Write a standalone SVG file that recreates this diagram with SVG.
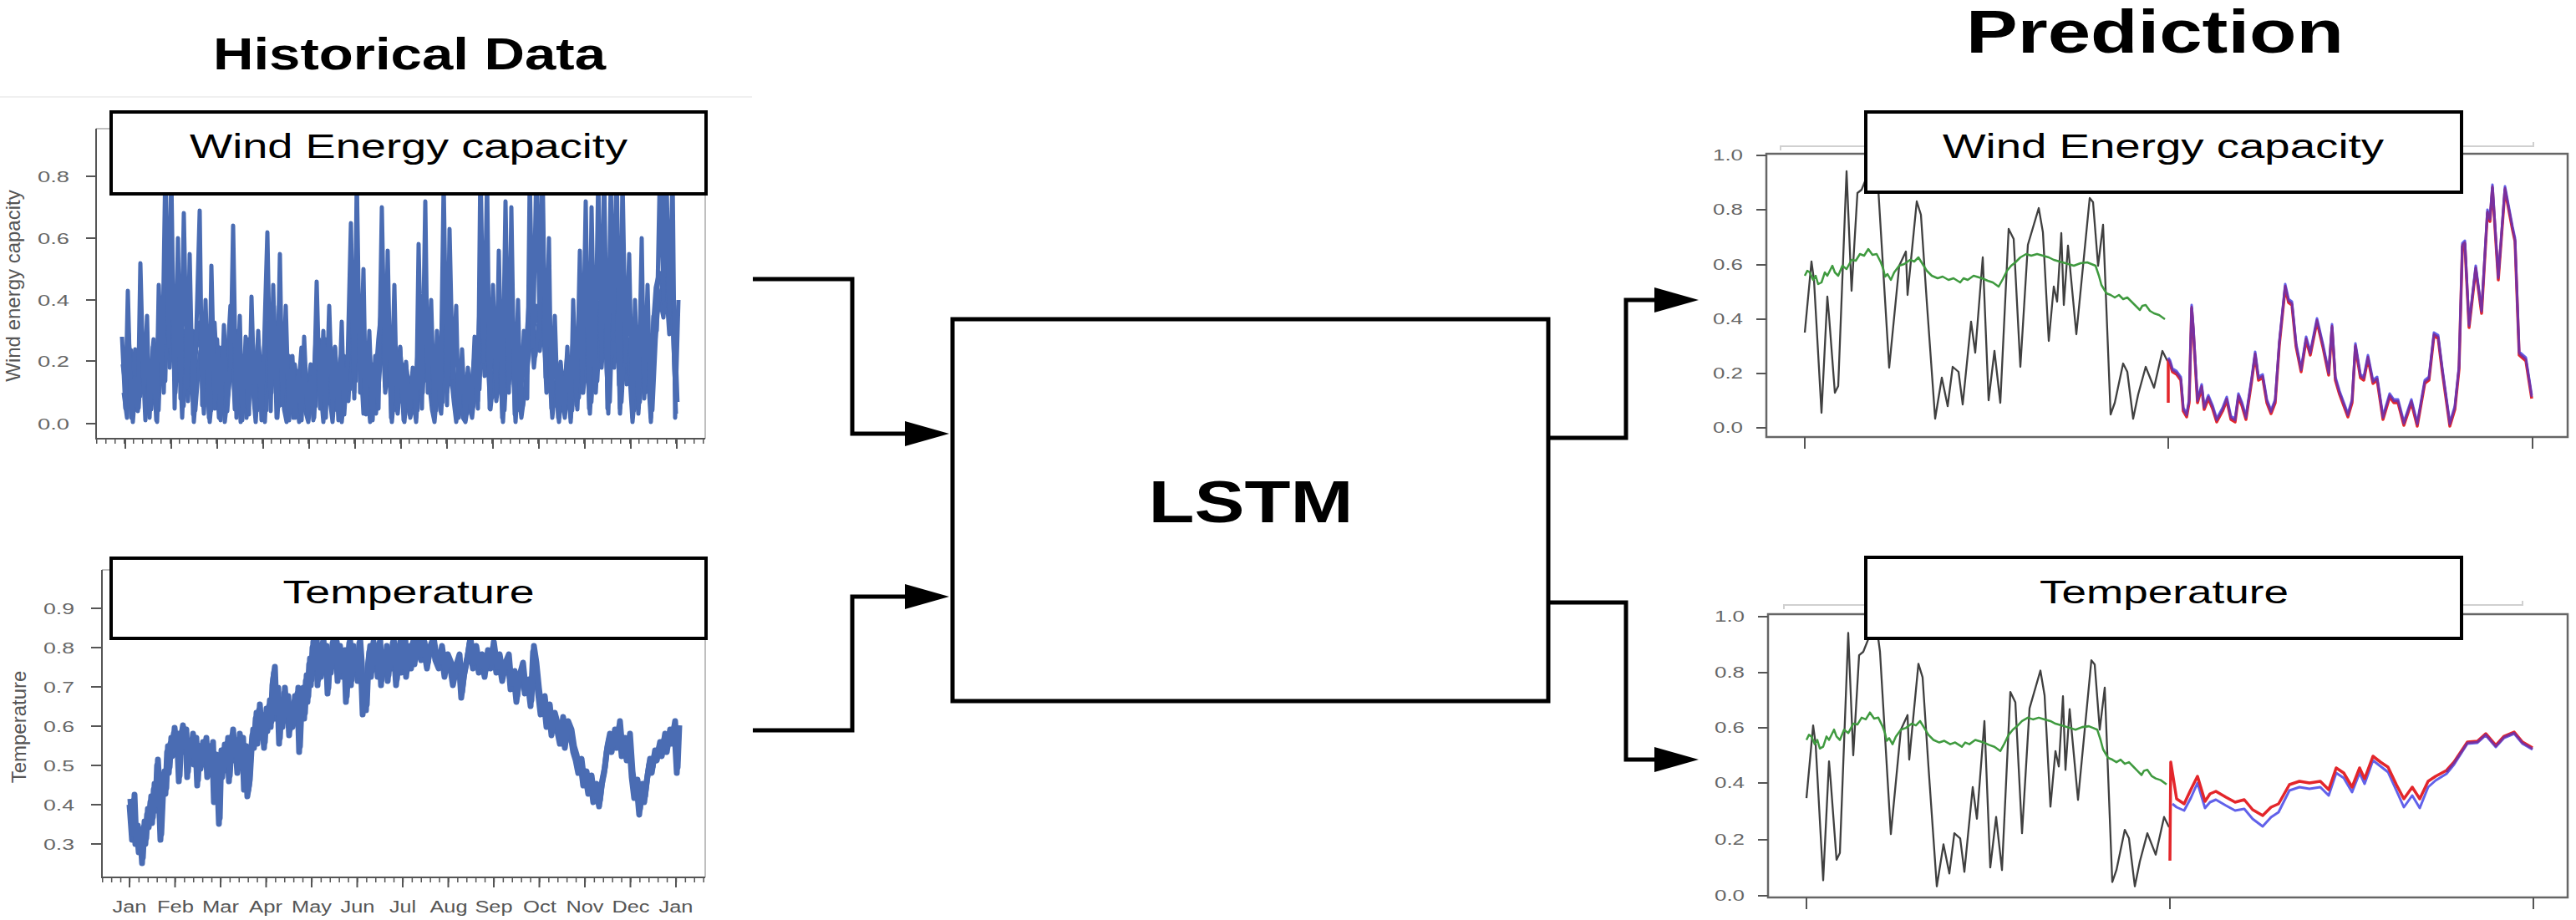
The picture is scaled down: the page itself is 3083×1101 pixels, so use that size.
<svg xmlns="http://www.w3.org/2000/svg" xmlns:xlink="http://www.w3.org/1999/xlink" width="3083" height="1101" viewBox="0 0 3083 1101">
<style>
text{font-family:"Liberation Sans",Arial,Helvetica,sans-serif}
.title{font-weight:bold;font-size:53px;fill:#000;text-anchor:middle}
.spine{stroke:#555;stroke-width:2;fill:none}
.spine2{stroke:#aaa;stroke-width:1.5;fill:none}
.frame{stroke:#666;stroke-width:2.5;fill:none}
.tick{stroke:#555;stroke-width:2;fill:none}
.lbl{font-size:19px;fill:#666;text-anchor:end}
.mon{font-size:20px;fill:#555;text-anchor:middle}
.ylab{font-size:24px;fill:#555;text-anchor:middle}
.legbox{fill:#fff;stroke:#000;stroke-width:4}
.legtxt{font-size:40px;fill:#000;text-anchor:middle}
.conn{stroke:#000;stroke-width:5;fill:none;stroke-linejoin:miter}
.hist{stroke:#4a6cb3;fill:none;stroke-width:5;stroke-linejoin:round}
.blk{stroke:#404040;stroke-width:2.3;fill:none;stroke-linejoin:round}
.grn{stroke:#3f9a3f;stroke-width:2.5;fill:none;stroke-linejoin:round}
.red{stroke:#e3262b;stroke-width:3.5;fill:none;stroke-linejoin:round}
.blu{stroke:#4545e6;stroke-width:3;fill:none;opacity:.85;stroke-linejoin:round}
.pur{stroke:#7b2f9b;stroke-width:2.5;fill:none;stroke-linejoin:round}
.faint{stroke:#d0d0d0;stroke-width:2;fill:none}
</style>
<defs>
<marker id="arrow" markerUnits="userSpaceOnUse" markerWidth="53" markerHeight="30" viewBox="0 0 53 30" refX="0" refY="15" orient="auto">
<path d="M0,0 L53,15 L0,30 Z" fill="#000"/>
</marker>
<polyline id="obsBlack" class="blk" points="2160,398 2168,313 2171,335 2180,494 2187,355 2189,378 2196,470 2200,462 2210,205 2216,348 2223,231 2228,227 2243,190 2248,227 2261,440 2273,318 2281,301 2283,353 2294,241 2299,257 2306,361 2316,501 2324,452 2331,486 2337,439 2344,445 2349,484 2359,385 2364,422 2373,308 2380,479 2387,420 2394,482 2404,274 2410,286 2418,439 2427,293 2440,249 2445,278 2452,408 2458,343 2462,361 2467,279 2470,365 2475,294 2485,400 2501,237 2505,242 2511,318 2517,269 2526,496 2531,482 2541,435 2546,445 2553,501 2559,472 2568,439 2578,464 2588,420 2594,432"/>
<polyline id="obsGreen" class="grn" points="2160,330 2163,324 2166,326 2170,335 2173,330 2176,340 2180,338 2184,326 2187,330 2193,318 2196,326 2200,330 2205,318 2210,322 2216,311 2221,312 2226,304 2231,306 2236,298 2241,305 2246,304 2251,314 2254,322 2256,331 2259,328 2263,335 2267,326 2273,318 2279,316 2286,311 2291,313 2296,308 2301,316 2306,324 2312,330 2319,333 2325,331 2332,335 2338,333 2346,338 2350,333 2355,335 2362,330 2372,333 2379,336 2385,338 2392,343 2397,334 2402,324 2407,318 2412,314 2418,308 2425,304 2431,306 2438,304 2445,306 2452,308 2458,311 2465,313 2472,315 2482,318 2490,315 2498,314 2503,316 2508,318 2512,330 2515,341 2521,351 2526,353 2531,356 2536,353 2541,358 2546,356 2551,361 2556,366 2561,371 2564,366 2568,365 2573,372 2578,375 2584,377 2591,382"/>
<polyline id="predW" fill="none" points="2595,430 2597,433 2600,443 2605,446 2610,453 2613,490 2617,497 2620,480 2623,367 2625,393 2630,480 2635,462 2638,488 2643,475 2648,487 2653,503 2660,490 2665,477 2670,500 2675,503 2679,473 2683,483 2688,500 2695,453 2699,423 2703,453 2708,450 2713,480 2718,493 2723,480 2728,410 2735,342 2739,360 2743,363 2748,413 2754,443 2760,405 2765,423 2773,383 2780,413 2787,447 2791,390 2795,453 2800,470 2810,497 2815,480 2819,413 2825,450 2829,453 2834,427 2840,457 2845,453 2852,500 2860,473 2865,480 2870,480 2877,507 2886,480 2893,508 2902,457 2907,453 2913,400 2918,403 2923,443 2932,508 2938,488 2943,440 2947,293 2950,290 2955,390 2963,320 2970,373 2977,253 2980,263 2983,223 2990,333 2998,225 3007,273 3010,287 3015,423 3023,430 3030,475"/>
</defs>

<rect x="0" y="0" width="3083" height="1101" fill="#fff"/>

<g id="title-historical">
<text class="title" x="490" y="83" textLength="470" lengthAdjust="spacingAndGlyphs">Historical Data</text>
</g>
<g id="title-prediction">
<text class="title" x="2579" y="63" style="font-size:73px" textLength="452" lengthAdjust="spacingAndGlyphs">Prediction</text>
</g>

<line x1="0" y1="116" x2="900" y2="116" stroke="#f0f0f0" stroke-width="2"/>

<!-- Historical wind energy chart -->
<g id="hist-wind">
<path class="spine2" d="M115,154 H844 V525"/>
<path class="spine" d="M115,154 V525 H844"/>
<path class="tick" d="M103,211 H115 M103,285 H115 M103,359 H115 M103,432 H115 M103,507 H115"/>
<line x1="115" y1="528" x2="844" y2="528" stroke="#555" stroke-width="6" stroke-dasharray="1.5 9.5"/>
<line x1="149" y1="531" x2="812" y2="531" stroke="#555" stroke-width="12" stroke-dasharray="2 53"/>
<text class="lbl" x="83" y="218" textLength="38" lengthAdjust="spacingAndGlyphs">0.8</text>
<text class="lbl" x="83" y="292" textLength="38" lengthAdjust="spacingAndGlyphs">0.6</text>
<text class="lbl" x="83" y="366" textLength="38" lengthAdjust="spacingAndGlyphs">0.4</text>
<text class="lbl" x="83" y="439" textLength="38" lengthAdjust="spacingAndGlyphs">0.2</text>
<text class="lbl" x="83" y="514" textLength="38" lengthAdjust="spacingAndGlyphs">0.0</text>
<text class="ylab" transform="translate(24,342) rotate(-90)">Wind energy capacity</text>
<polyline id="windLow" class="hist" points="148,470 152,500 155,433 159,505 163,452 166,488 170,415 174,503 177,460 181,490 185,440 188,505 192,396 196,470 199,350 203,440 207,380 210,470 214,400 218,500 221,430 225,480 229,410 232,505 236,452 240,420 244,495 247,440 251,505 255,460 258,420 262,500 266,450 269,505 273,470 277,400 281,490 284,430 288,505 292,460 295,500 299,440 303,470 306,505 310,440 314,480 317,505 321,420 325,470 329,400 332,500 336,430 340,490 343,505 347,460 351,500 354,470 358,505 362,450 365,490 369,505 373,470 376,500 380,420 384,470 387,505 391,440 395,480 398,505 402,450 406,495 409,505 413,460 417,480 421,400 424,470 428,380 432,440 435,495 439,460 443,505 447,470 450,495 454,440 458,400 461,470 465,430 469,505 472,470 476,495 480,450 484,505 487,470 491,500 495,480 498,505 502,440 506,470 509,400 513,450 517,490 520,505 524,460 528,495 532,420 535,470 539,440 543,480 546,505 550,470 554,500 557,505 561,480 565,500 569,460 572,480 576,380 580,450 583,420 587,490 591,450 594,480 598,440 602,505 606,420 609,460 613,420 617,505 620,460 624,500 628,470 632,430 635,380 639,440 643,400 646,420 650,378 654,470 657,440 661,500 665,460 669,505 672,470 676,500 680,460 683,505 687,440 691,490 694,420 698,470 702,420 706,495 709,440 713,470 717,396 720,440 724,380 728,495 731,400 735,440 739,378 742,495 746,420 750,460 753,440 757,505 761,460 764,495 768,430 772,470 775,440 779,505 783,420 786,378 790,360 794,380 797,340 801,400 805,380 809,495"/>
<use xlink:href="#windLow" href="#windLow" transform="translate(1.8,-14)"/>
<use xlink:href="#windLow" href="#windLow" transform="translate(-1.2,-34)"/>
<polyline class="hist" points="146,403 150,489 153,348 157,500 161,452 165,492 168,315 172,470 176,378 179,500 183,415 187,503 190,341 194,452 198,193 202,415 205,204 209,489 213,285 216,477 220,255 224,463 227,304 231,496 235,396 239,252 242,485 246,359 250,500 253,318 257,489 261,415 264,503 268,389 272,492 276,433 279,270 283,500 287,378 290,503 294,403 298,496 301,355 305,489 309,396 313,503 316,415 320,278 324,492 327,341 331,500 335,304 338,485 342,366 346,503 350,426 353,500 357,444 361,503 364,403 368,496 372,452 375,503 379,337 383,489 387,396 390,500 394,366 398,492 401,415 405,503 409,385 412,496 416,433 420,267 424,477 427,211 431,470 435,322 438,496 442,396 446,503 449,426 453,489 457,248 461,463 464,300 468,500 472,341 475,485 479,415 483,503 486,433 490,496 494,440 498,500 501,292 505,489 509,241 512,470 516,359 520,500 523,396 527,492 531,218 535,485 538,274 542,452 546,366 549,500 553,418 557,503 560,440 564,496 568,403 572,489 575,193 579,433 583,211 586,489 590,341 594,470 597,300 601,500 605,241 609,470 612,248 616,496 620,359 623,492 627,396 631,477 634,211 638,415 642,193 646,396 649,174 653,452 657,285 660,489 664,378 668,500 671,433 675,492 679,415 683,500 686,359 690,485 694,300 697,470 701,241 705,489 708,248 712,463 716,211 720,433 723,193 727,489 731,211 734,396 738,193 742,489 745,211 749,433 753,304 757,500 760,359 764,489 768,285 771,477 775,341 779,500 782,378 786,396 790,193 794,359 797,174 801,378 805,211 808,500 812,359"/>
<rect class="legbox" x="133" y="134" width="712" height="98"/>
<text class="legtxt" x="489" y="189" textLength="524" lengthAdjust="spacingAndGlyphs">Wind Energy capacity</text>
</g>

<!-- Historical temperature chart -->
<g id="hist-temp">
<path class="spine2" d="M122,682 H844 V1050"/>
<path class="spine" d="M122,682 V1050 H844"/>
<path class="tick" d="M109,728 H122 M109,775 H122 M109,822 H122 M109,869 H122 M109,916 H122 M109,963 H122 M109,1010 H122"/>
<line x1="122" y1="1053" x2="844" y2="1053" stroke="#555" stroke-width="6" stroke-dasharray="1.5 9.4"/>
<line x1="154" y1="1056" x2="811" y2="1056" stroke="#555" stroke-width="12" stroke-dasharray="2 52.5"/>
<text class="lbl" x="89" y="735" textLength="37" lengthAdjust="spacingAndGlyphs">0.9</text>
<text class="lbl" x="89" y="782" textLength="37" lengthAdjust="spacingAndGlyphs">0.8</text>
<text class="lbl" x="89" y="829" textLength="37" lengthAdjust="spacingAndGlyphs">0.7</text>
<text class="lbl" x="89" y="876" textLength="37" lengthAdjust="spacingAndGlyphs">0.6</text>
<text class="lbl" x="89" y="923" textLength="37" lengthAdjust="spacingAndGlyphs">0.5</text>
<text class="lbl" x="89" y="970" textLength="37" lengthAdjust="spacingAndGlyphs">0.4</text>
<text class="lbl" x="89" y="1017" textLength="37" lengthAdjust="spacingAndGlyphs">0.3</text>
<text class="ylab" transform="translate(31,870) rotate(-90)">Temperature</text>
<text class="mon" x="155" y="1092" textLength="41" lengthAdjust="spacingAndGlyphs">Jan</text>
<text class="mon" x="210" y="1092" textLength="44" lengthAdjust="spacingAndGlyphs">Feb</text>
<text class="mon" x="264" y="1092" textLength="44" lengthAdjust="spacingAndGlyphs">Mar</text>
<text class="mon" x="318" y="1092" textLength="40" lengthAdjust="spacingAndGlyphs">Apr</text>
<text class="mon" x="373" y="1092" textLength="48" lengthAdjust="spacingAndGlyphs">May</text>
<text class="mon" x="428" y="1092" textLength="41" lengthAdjust="spacingAndGlyphs">Jun</text>
<text class="mon" x="482" y="1092" textLength="32" lengthAdjust="spacingAndGlyphs">Jul</text>
<text class="mon" x="537" y="1092" textLength="45" lengthAdjust="spacingAndGlyphs">Aug</text>
<text class="mon" x="591" y="1092" textLength="45" lengthAdjust="spacingAndGlyphs">Sep</text>
<text class="mon" x="646" y="1092" textLength="40" lengthAdjust="spacingAndGlyphs">Oct</text>
<text class="mon" x="700" y="1092" textLength="45" lengthAdjust="spacingAndGlyphs">Nov</text>
<text class="mon" x="755" y="1092" textLength="45" lengthAdjust="spacingAndGlyphs">Dec</text>
<text class="mon" x="809" y="1092" textLength="41" lengthAdjust="spacingAndGlyphs">Jan</text>
<polyline id="tempLine" class="hist" style="stroke-width:7" points="155,963 158,1005 160,958 162,1010 164,995 166,1020 168,1000 170,1033 172,990 174,1010 176,975 178,990 180,960 182,985 184,945 186,970 188,916 190,950 192,1005 194,960 196,930 198,950 200,900 202,925 204,890 206,905 208,878 210,900 212,885 214,935 216,888 218,875 220,900 222,880 224,930 226,895 228,905 230,885 232,915 234,890 236,940 238,900 240,920 242,895 244,915 246,890 248,930 250,900 252,925 254,895 256,960 258,910 260,930 262,986 264,905 266,930 268,898 270,915 272,890 274,935 276,900 278,880 280,910 282,895 284,925 286,885 288,910 290,890 292,945 294,900 296,953 298,940 300,905 302,880 304,895 306,860 308,890 310,850 312,880 314,870 316,895 318,855 320,875 322,845 324,870 326,820 328,805 330,860 332,830 334,890 336,845 338,870 340,830 342,860 344,840 346,880 348,850 350,870 352,840 354,865 356,830 358,900 360,850 362,830 364,860 366,815 368,840 370,795 372,820 374,775 376,800 378,770 380,820 382,780 384,810 386,770 388,800 390,780 392,830 394,790 396,805 398,770 400,790 402,775 404,815 406,780 408,800 410,810 412,785 414,840 416,800 418,770 420,820 422,780 424,800 426,790 428,815 430,770 432,800 434,855 436,820 438,850 440,800 442,780 444,810 446,775 448,800 450,780 452,810 454,770 456,820 458,790 460,805 462,780 464,815 466,785 468,800 470,770 472,790 474,820 476,795 478,775 480,805 482,790 484,770 486,810 488,790 490,780 492,800 494,770 496,795 498,780 500,770 504,790 507,775 511,800 514,780 518,770 521,790 525,800 528,780 532,810 535,790 539,800 542,820 546,800 549,790 552,835 555,810 559,790 562,770 566,800 569,780 573,805 576,790 580,810 583,785 587,800 590,775 594,805 597,790 601,815 604,800 608,790 611,825 615,810 618,840 621,815 625,800 628,830 632,820 635,845 638,780 641,800 644,830 647,855 651,840 654,870 657,850 660,880 663,860 667,875 670,890 673,865 676,895 679,870 683,880 686,900 689,910 692,925 695,915 698,940 701,930 704,950 707,935 710,960 713,945 717,965 720,940 723,925 726,900 729,885 732,900 735,880 738,895 741,870 744,905 747,890 750,910 753,885 756,930 759,955 762,940 765,975 768,945 771,960 774,935 777,915 780,925 783,905 786,910 789,895 792,905 795,885 798,900 801,880 804,890 807,870 810,925 812,875"/>
<use xlink:href="#tempLine" href="#tempLine" transform="translate(1,-7)"/>
<rect class="legbox" x="133" y="668" width="712" height="96"/>
<text class="legtxt" x="489" y="722" style="font-size:39px" textLength="301" lengthAdjust="spacingAndGlyphs">Temperature</text>
</g>

<!-- LSTM -->
<g id="lstm">
<rect x="1140" y="382" width="713" height="457" fill="#fff" stroke="#000" stroke-width="5"/>
<text x="1497" y="625" style="font-weight:bold;font-size:71px" text-anchor="middle" textLength="245" lengthAdjust="spacingAndGlyphs">LSTM</text>
</g>

<!-- Connectors -->
<g id="connectors">
<path class="conn" d="M901,334 H1020 V519 H1083" marker-end="url(#arrow)"/>
<path class="conn" d="M901,874 H1020 V714 H1083" marker-end="url(#arrow)"/>
<path class="conn" d="M1853,524 H1946 V359 H1980" marker-end="url(#arrow)"/>
<path class="conn" d="M1853,721 H1946 V909 H1980" marker-end="url(#arrow)"/>
</g>

<!-- Prediction wind chart -->
<g id="pred-wind">
<path class="faint" d="M2131,180 V175 H3032 V170"/>
<rect class="frame" x="2114" y="184" width="959" height="339"/>
<path class="tick" d="M2102,186 H2114 M2102,251 H2114 M2102,317 H2114 M2102,382 H2114 M2102,447 H2114 M2102,512 H2114 M2160,523 V537 M2595,523 V537 M3031,523 V537"/>
<text class="lbl" x="2086" y="192" textLength="36" lengthAdjust="spacingAndGlyphs">1.0</text>
<text class="lbl" x="2086" y="257" textLength="36" lengthAdjust="spacingAndGlyphs">0.8</text>
<text class="lbl" x="2086" y="323" textLength="36" lengthAdjust="spacingAndGlyphs">0.6</text>
<text class="lbl" x="2086" y="388" textLength="36" lengthAdjust="spacingAndGlyphs">0.4</text>
<text class="lbl" x="2086" y="453" textLength="36" lengthAdjust="spacingAndGlyphs">0.2</text>
<text class="lbl" x="2086" y="518" textLength="36" lengthAdjust="spacingAndGlyphs">0.0</text>
<use xlink:href="#obsBlack" href="#obsBlack"/>
<use xlink:href="#obsGreen" href="#obsGreen"/>
<polyline class="red" points="2595,482 2595,430"/>
<use xlink:href="#predW" href="#predW" class="red" transform="translate(0,2)"/>
<use xlink:href="#predW" href="#predW" class="blu" transform="translate(0,-2)"/>
<use xlink:href="#predW" href="#predW" class="pur"/>
<rect class="legbox" x="2233" y="134" width="713" height="96"/>
<text class="legtxt" x="2589" y="189" textLength="528" lengthAdjust="spacingAndGlyphs">Wind Energy capacity</text>
</g>

<!-- Prediction temperature chart -->
<g id="pred-temp">
<path class="faint" d="M2135,729 V724 H3019 V719"/>
<rect class="frame" x="2116" y="735" width="957" height="339"/>
<path class="tick" d="M2104,738 H2116 M2104,805 H2116 M2104,871 H2116 M2104,937 H2116 M2104,1005 H2116 M2104,1072 H2116 M2162,1074 V1088 M2597,1074 V1088 M3032,1074 V1088"/>
<text class="lbl" x="2088" y="744" textLength="36" lengthAdjust="spacingAndGlyphs">1.0</text>
<text class="lbl" x="2088" y="811" textLength="36" lengthAdjust="spacingAndGlyphs">0.8</text>
<text class="lbl" x="2088" y="877" textLength="36" lengthAdjust="spacingAndGlyphs">0.6</text>
<text class="lbl" x="2088" y="943" textLength="36" lengthAdjust="spacingAndGlyphs">0.4</text>
<text class="lbl" x="2088" y="1011" textLength="36" lengthAdjust="spacingAndGlyphs">0.2</text>
<text class="lbl" x="2088" y="1078" textLength="36" lengthAdjust="spacingAndGlyphs">0.0</text>
<use xlink:href="#obsBlack" href="#obsBlack" transform="matrix(1,0,0,1.02454,2,547.4)"/>
<use xlink:href="#obsGreen" href="#obsGreen" transform="matrix(1,0,0,1.02454,2,547.4)"/>
<polyline class="blu" points="2600,962 2605,966 2614,970 2622,955 2630,937 2639,967 2645,960 2652,957 2664,964 2675,970 2686,968 2696,980 2708,989 2718,978 2727,972 2740,946 2752,942 2764,944 2777,942 2787,952 2796,925 2805,931 2815,948 2824,925 2830,938 2840,910 2849,917 2858,924 2868,946 2877,966 2887,952 2896,967 2906,942 2915,934 2928,926 2937,915 2953,890 2965,889 2975,880 2987,894 2997,883 3009,878 3019,890 3031,897"/>
<polyline class="red" points="2597,1030 2598,912 2605,956 2614,962 2622,945 2630,929 2639,959 2645,950 2652,947 2664,954 2675,960 2686,957 2696,969 2708,976 2718,966 2727,962 2740,939 2752,935 2764,937 2777,935 2787,945 2796,919 2805,925 2815,942 2824,919 2830,932 2840,905 2849,912 2858,918 2868,939 2877,956 2887,942 2896,956 2906,935 2915,929 2928,922 2937,912 2953,888 2965,887 2975,878 2987,892 2997,881 3009,876 3019,888 3031,895"/>
<polyline class="pur" points="2928,924 2937,913 2953,889 2965,888 2975,879 2987,893 2997,882 3009,877 3019,889 3031,896"/>
<rect class="legbox" x="2233" y="667" width="713" height="97"/>
<text class="legtxt" x="2590" y="722" style="font-size:39px" textLength="298" lengthAdjust="spacingAndGlyphs">Temperature</text>
</g>
</svg>
